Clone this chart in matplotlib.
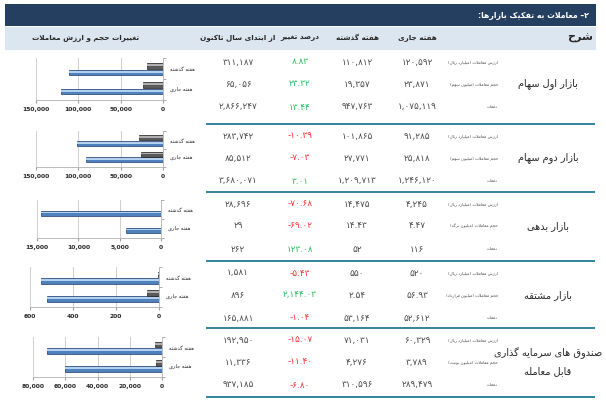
import matplotlib
matplotlib.use("Agg")
import matplotlib.pyplot as plt

plt.rcParams['font.family'] = ['DejaVu Sans']

# ---- data -------------------------------------------------------------
markets = ["بازار اول سهام", "بازار دوم سهام", "بازار بدهی", "بازار مشتقه",
           "صندوق های سرمایه گذاری\nقابل معامله"]
vol_units = ["میلیون سهم", "میلیون سهم", "میلیون برگه", "میلیون قرارداد", "میلیون یونیت"]
value_label = "ارزش معاملات (میلیارد ریال)"
count_label = "دفعات"

current_value = [120592, 91285, 4245, 520, 60329]
last_value = [110812, 101865, 14475, 550, 71031]
pct_value = [8.83, -10.39, -70.68, -5.43, -15.07]
ytd_value = [311187, 283742, 28696, 1581, 192950]

current_vol = [23871, 25818, 4.47, 56.93, 3789]
last_vol = [19357, 27771, 14.43, 2.54, 4276]
pct_vol = [23.32, -7.03, -69.02, 2144.03, -11.40]
ytd_vol = [65056, 85512, 29, 896, 11336]

current_cnt = [1075119, 1246120, 116, 52612, 289479]
last_cnt = [947763, 1209713, 52, 53164, 310596]
pct_cnt = [13.44, 3.01, 123.08, -1.04, -6.80]
ytd_cnt = [2866247, 3680071, 262, 165881, 937185]

chart_max = [150000, 150000, 15000, 600, 80000]
chart_step = [50000, 50000, 5000, 200, 20000]
week_labels = ["هفته جاری", "هفته گذشته"]  # y=0, y=1

title = "۲– معاملات به تفکیک بازارها:"
col_headers = ["هفته جاری", "هفته گذشته", "درصد تغییر", "از ابتدای سال تاکنون"]
chart_header = "تغییرات حجم و ارزش معاملات"

# ---- minimal arabic shaping (matplotlib has no RTL layout) -------------
FORMS = {
    'ا': ('\uFE8D', '\uFE8E', None, None), 'آ': ('\uFE81', '\uFE82', None, None),
    'ب': ('\uFE8F', '\uFE90', '\uFE91', '\uFE92'), 'پ': ('\uFB56', '\uFB57', '\uFB58', '\uFB59'),
    'ت': ('\uFE95', '\uFE96', '\uFE97', '\uFE98'), 'ث': ('\uFE99', '\uFE9A', '\uFE9B', '\uFE9C'),
    'ج': ('\uFE9D', '\uFE9E', '\uFE9F', '\uFEA0'), 'چ': ('\uFB7A', '\uFB7B', '\uFB7C', '\uFB7D'),
    'ح': ('\uFEA1', '\uFEA2', '\uFEA3', '\uFEA4'), 'خ': ('\uFEA5', '\uFEA6', '\uFEA7', '\uFEA8'),
    'د': ('\uFEA9', '\uFEAA', None, None), 'ذ': ('\uFEAB', '\uFEAC', None, None),
    'ر': ('\uFEAD', '\uFEAE', None, None), 'ز': ('\uFEAF', '\uFEB0', None, None),
    'ژ': ('\uFB8A', '\uFB8B', None, None),
    'س': ('\uFEB1', '\uFEB2', '\uFEB3', '\uFEB4'), 'ش': ('\uFEB5', '\uFEB6', '\uFEB7', '\uFEB8'),
    'ص': ('\uFEB9', '\uFEBA', '\uFEBB', '\uFEBC'), 'ض': ('\uFEBD', '\uFEBE', '\uFEBF', '\uFEC0'),
    'ط': ('\uFEC1', '\uFEC2', '\uFEC3', '\uFEC4'), 'ظ': ('\uFEC5', '\uFEC6', '\uFEC7', '\uFEC8'),
    'ع': ('\uFEC9', '\uFECA', '\uFECB', '\uFECC'), 'غ': ('\uFECD', '\uFECE', '\uFECF', '\uFED0'),
    'ف': ('\uFED1', '\uFED2', '\uFED3', '\uFED4'), 'ق': ('\uFED5', '\uFED6', '\uFED7', '\uFED8'),
    'ک': ('\uFB8E', '\uFB8F', '\uFB90', '\uFB91'), 'گ': ('\uFB92', '\uFB93', '\uFB94', '\uFB95'),
    'ل': ('\uFEDD', '\uFEDE', '\uFEDF', '\uFEE0'), 'م': ('\uFEE1', '\uFEE2', '\uFEE3', '\uFEE4'),
    'ن': ('\uFEE5', '\uFEE6', '\uFEE7', '\uFEE8'), 'ه': ('\uFEE9', '\uFEEA', '\uFEEB', '\uFEEC'),
    'و': ('\uFEED', '\uFEEE', None, None), 'ی': ('\uFBFC', '\uFBFD', '\uFBFE', '\uFBFF'),
}
MIRROR = {'(': ')', ')': '('}


def fa(s):
    lines = []
    for line in s.split("\n"):
        out = []
        i, n = 0, len(line)
        while i < n:
            c = line[i]
            if c not in FORMS:
                out.append(c)
                i += 1
                continue
            prev = line[i - 1] if i > 0 else None
            join_prev = prev in FORMS and FORMS[prev][2] is not None
            if c == 'ل' and i + 1 < n and line[i + 1] in ('ا', 'آ'):
                lig = ('\uFEFB', '\uFEFC') if line[i + 1] == 'ا' else ('\uFEF5', '\uFEF6')
                out.append(lig[1] if join_prev else lig[0])
                i += 2
                continue
            nxt = line[i + 1] if i + 1 < n else None
            iso, fin, ini, med = FORMS[c]
            join_next = ini is not None and nxt in FORMS
            if join_prev and join_next:
                out.append(med)
            elif join_prev:
                out.append(fin)
            elif join_next:
                out.append(ini)
            else:
                out.append(iso)
            i += 1
        lines.append(''.join(MIRROR.get(ch, ch) for ch in reversed(out)))
    return "\n".join(lines)


DIGITS = str.maketrans("0123456789", "۰۱۲۳۴۵۶۷۸۹")


def num(v, pct=False):
    if pct or v != int(v):
        s = f"{v:,.2f}"
    else:
        s = f"{int(v):,}"
    return s.translate(DIGITS)


# ---- layout helpers (pixel coords of a 606x408 canvas) -----------------
W, H = 606, 408
fig = plt.figure(figsize=(W / 100, H / 100), dpi=100)
bg = fig.add_axes([0, 0, 1, 1])
bg.set_xlim(0, W)
bg.set_ylim(H, 0)
bg.axis("off")

NAVY = "#243F60"
BAND = "#DCE6F1"
TEAL = "#31849B"
TXT = "#4A4A4A"
GREEN = "#2DBE60"
RED = "#FF3030"

bg.add_patch(plt.Rectangle((5, 4), 591, 22, color=NAVY, lw=0))
bg.add_patch(plt.Rectangle((5, 27), 591, 23, color=BAND, lw=0))
bg.text(589, 15, fa(title), color="white", fontsize=5.6, fontweight="bold",
        ha="right", va="center")
bg.text(593, 38, fa("شرح"), color="#262626", fontsize=8, fontweight="bold",
        ha="right", va="center")
col_x = [417, 357, 300, 238]
for x, h in zip(col_x, col_headers):
    bg.text(x, 38, fa(h), color="#262626", fontsize=5.2, fontweight="bold",
            ha="center", va="center")
bg.text(86, 38, fa(chart_header), color="#262626", fontsize=5.2, fontweight="bold",
        ha="center", va="center")

block_top = [50, 124, 192, 261, 328]
block_line = [124, 192, 261, 328, 397]
row_off = [12, 34, 57]
for b in range(5):
    rows = [
        (value_label, current_value[b], last_value[b], pct_value[b], ytd_value[b]),
        (f"حجم معاملات ({vol_units[b]})", current_vol[b], last_vol[b], pct_vol[b], ytd_vol[b]),
        (count_label, current_cnt[b], last_cnt[b], pct_cnt[b], ytd_cnt[b]),
    ]
    for (lab, cur, last, pct, ytd), off in zip(rows, row_off):
        y = block_top[b] + off
        bg.text(498, y, fa(lab), color=TXT, fontsize=3.0, ha="right", va="center")
        bg.text(col_x[0], y, num(cur), color=TXT, fontsize=6.4, ha="center", va="center")
        bg.text(col_x[1], y, num(last), color=TXT, fontsize=6.4, ha="center", va="center")
        bg.text(col_x[2], y, num(pct, pct=True), color=GREEN if pct > 0 else RED,
                fontsize=6.4, ha="center", va="center")
        bg.text(col_x[3], y, num(ytd), color=TXT, fontsize=6.4, ha="center", va="center")
    bg.text(548, block_top[b] + row_off[1], fa(markets[b]), color="#262626",
            fontsize=7, ha="center", va="center", linespacing=1.9)
    bg.plot([206, 595], [block_line[b]] * 2, color=TEAL, lw=1.4, solid_capstyle="butt")

# ---- little bar charts --------------------------------------------------
chart_rect = [(36, 163, 58, 100), (36, 163, 131, 167), (37, 161, 200, 238),
              (30, 159, 267, 307), (33, 162, 337, 377)]
BLUE, BLUE_E, BLUE_H = "#4F81BD", "#1F3F6F", "#B4D0F0"
GRAY, GRAY_E, GRAY_H = "#5A5A5A", "#222222", "#B0B0B0"
bh = 0.3
for b, (l, r, t, btm) in enumerate(chart_rect):
    ax = fig.add_axes([l / W, 1 - btm / H, (r - l) / W, (btm - t) / H])
    ax.patch.set_alpha(0)
    vals = [current_value[b], last_value[b]]
    vols = [current_vol[b], last_vol[b]]
    for yi in range(2):
        ax.barh(yi - 0.16, vals[yi], height=bh, color=BLUE, edgecolor=BLUE_E, lw=0.5, zorder=3)
        ax.barh(yi - 0.12, vals[yi], height=bh * 0.3, color=BLUE_H, lw=0, zorder=4)
        ax.barh(yi + 0.18, vols[yi], height=bh, color=GRAY, edgecolor=GRAY_E, lw=0.5, zorder=3)
        ax.barh(yi + 0.22, vols[yi], height=bh * 0.3, color=GRAY_H, lw=0, zorder=4)
    ax.set_xlim(chart_max[b], 0)
    ax.set_ylim(-0.6, 1.6)
    ticks = list(range(0, chart_max[b] + 1, chart_step[b]))
    ax.set_xticks(ticks)
    ax.set_xticklabels([f"{v:,}" for v in ticks], fontsize=4.3, color="#262626",
                       fontweight="bold")
    ax.grid(axis="x", color="#C8C8C8", lw=0.6, zorder=0)
    ax.tick_params(axis="x", length=2, pad=3, color="#A0A0A0")
    ax.yaxis.tick_right()
    ax.set_yticks([0, 1])
    ax.set_yticklabels([fa(w) for w in week_labels], fontsize=3.7, color="#262626")
    ax.set_yticks([-0.6, 0.5, 1.6], minor=True)
    ax.tick_params(axis="y", which="major", length=0, pad=5)
    ax.tick_params(axis="y", which="minor", length=2, color="#A0A0A0")
    for side in ("left", "top"):
        ax.spines[side].set_visible(False)
    for side in ("right", "bottom"):
        ax.spines[side].set_color("#B0B0B0")
        ax.spines[side].set_linewidth(0.6)

fig.savefig("out.png", dpi=100)
